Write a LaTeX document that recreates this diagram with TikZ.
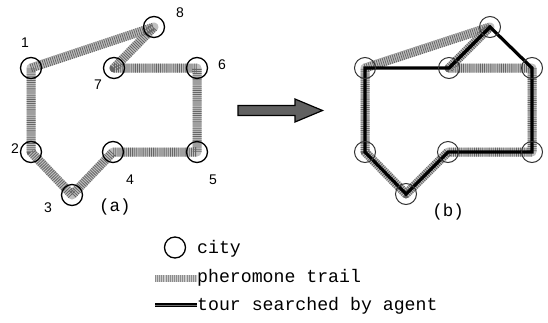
\documentclass[tikz,border=0pt]{standalone}
\usepackage{fontspec}
\newfontfamily\cour{Liberation Mono}
\newfontfamily\lsans{Liberation Sans}
\usetikzlibrary{backgrounds}
\begin{document}
\begin{tikzpicture}[x=1pt,y=-1pt,
 city/.style={circle,draw=black,line width=1.3pt,minimum size=21pt,inner sep=0pt},
 cityb/.style={city,line width=1pt,draw=black!80},
 num/.style={font=\lsans\fontsize{14}{14}\selectfont,inner sep=0pt},
 captxt/.style={font=\cour\fontsize{17.5}{18}\selectfont,inner sep=0pt},
 leg/.style={font=\cour\fontsize{18.2}{19}\selectfont,inner sep=0pt,anchor=base west},
 trailbase/.style={line width=9pt,draw=black!25,line join=round},
 trailhatch/.style={line width=9pt,draw=black!60,dash pattern=on 0.8pt off 1.3pt,line join=round},
 tour/.style={line width=3.2pt,draw=black,line join=miter}]
\useasboundingbox (0,0) rectangle (548,322);

% panel (a)
\node[city] (a1) at (31,68) {};
\node[city] (a2) at (31,152) {};
\node[city] (a3) at (72,195) {};
\node[city] (a4) at (113,152) {};
\node[city] (a5) at (197,152) {};
\node[city] (a6) at (197,68) {};
\node[city] (a7) at (114,68) {};
\node[city] (a8) at (154,27) {};
\node[num] (n1) at (25,43) {1};
\node[num] (n8) at (180,13) {8};
\node[num] (n6) at (222,65) {6};
\node[num] (n7) at (98,85) {7};
\node[num] (n2) at (15,149) {2};
\node[num] (n3) at (48,208) {3};
\node[num] (n4) at (130,180) {4};
\node[num] (n5) at (213,180) {5};
\node[captxt] (capa) at (115,207) {(a)};

% panel (b)
\node[cityb] (b1) at (365,68) {};
\node[cityb] (b2) at (365,152) {};
\node[cityb] (b3) at (406,194) {};
\node[cityb] (b4) at (448,152) {};
\node[cityb] (b5) at (532,152) {};
\node[cityb] (b6) at (532,68) {};
\node[cityb] (b7) at (449,68) {};
\node[cityb] (b8) at (490,27) {};
\node[captxt] (capb) at (448,212) {(b)};

\begin{scope}[on background layer]
 \foreach \p in {a,b}{
  \draw[trailbase] (\p1.center) -- (\p8.center) -- (\p7.center) -- (\p6.center) -- (\p5.center) -- (\p4.center) -- (\p3.center) -- (\p2.center) -- cycle;
  \draw[trailhatch] (\p1.center) -- (\p8.center) -- (\p7.center) -- (\p6.center) -- (\p5.center) -- (\p4.center) -- (\p3.center) -- (\p2.center) -- cycle;
 }
 \draw[tour] (b1.center) -- (b7.center) -- (b8.center) -- (b6.center) -- (b5.center) -- (b4.center) -- (b3.center) -- (b2.center) -- cycle;
\end{scope}

% arrow
\draw[fill=black!62,line width=1.2pt,line join=miter]
 (238,105.5) -- (295,105.5) -- (295,99) -- (322.5,110.5) -- (295,122) -- (295,115.5) -- (238,115.5) -- cycle;

% legend
\node[city] (lc) at (175,247.5) {};
\node[leg] (lcity) at (197,253) {city};
\coordinate (ls1) at (155,278);
\coordinate (ls2) at (197,278);
\draw[trailbase,line width=7pt,draw=black!20] (ls1) -- (ls2);
\draw[trailhatch,line width=7pt,draw=black!45] (ls1) -- (ls2);
\node[leg] (lpher) at (197,282.5) {pheromone trail};
\coordinate (lt1) at (155,305);
\coordinate (lt2) at (197,305);
\draw[line width=4.5pt] (lt1) -- (lt2);
\draw[line width=1pt,draw=black!55] (lt1) -- (lt2);
\node[leg] (ltour) at (197,310.5) {tour searched by agent};
\end{tikzpicture}
\end{document}
